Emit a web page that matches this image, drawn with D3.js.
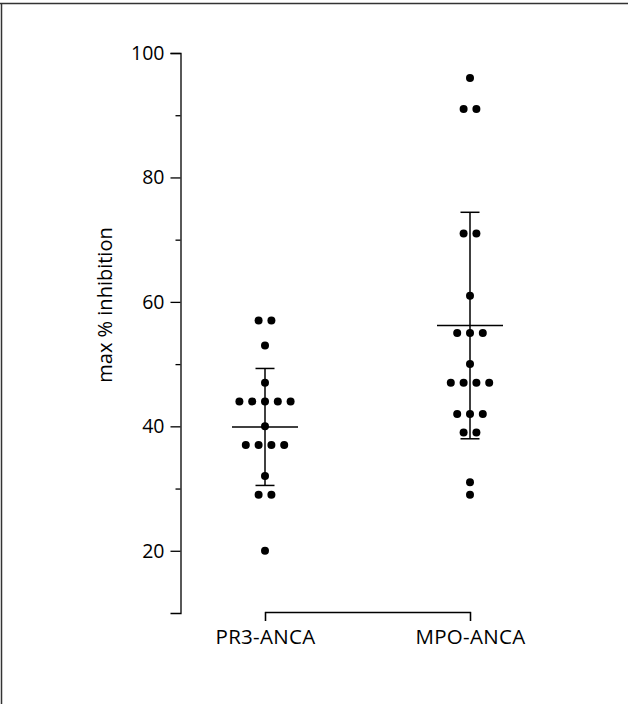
<!DOCTYPE html>
<html>
<head>
<meta charset="utf-8">
<script src="https://cdn.jsdelivr.net/npm/d3@7"></script>
<style>
  html, body { margin: 0; padding: 0; background: #fff; }
  svg { display: block; }
  text { font-family: "Open Sans", sans-serif; fill: #000; }
</style>
</head>
<body>
<svg id="chart" width="628" height="704"></svg>
<script>
// ---- data ----
const categories = ["PR3-ANCA", "MPO-ANCA"];
const pr3Values = [57, 57, 53, 47, 44, 44, 44, 44, 44, 40, 37, 37, 37, 37, 32, 29, 29, 20];
const mpoValues = [96, 91, 91, 71, 71, 61, 55, 55, 55, 50, 47, 47, 47, 47, 42, 42, 42, 39, 39, 31, 29];
const groupMeans = [39.9, 56.2];
const groupSD = [9.4, 18.2];
const yTicksMajor = [20, 40, 60, 80, 100];
const yTicksMinor = [30, 50, 70, 90];
const yLabel = "max % inhibition";

const seriesValues = [pr3Values, mpoValues];

const svg = d3.select("#chart");
const ink = "#000";

// frame (top and left edges of the figure box)
svg.append("line").attr("x1", 0).attr("x2", 628).attr("y1", 3.5).attr("y2", 3.5)
  .attr("stroke", "#333").attr("stroke-width", 1.5);
svg.append("line").attr("x1", 1.5).attr("x2", 1.5).attr("y1", 3).attr("y2", 704)
  .attr("stroke", "#333").attr("stroke-width", 1.5);

// scales
const y = d3.scaleLinear().domain([10, 100]).range([613, 53]);
const x = d3.scalePoint().domain(categories).range([265, 470]);

// y axis: major ticks with labels
const yAxis = svg.append("g").attr("transform", "translate(180.5,0)")
  .call(d3.axisLeft(y).tickValues(yTicksMajor).tickSizeInner(10).tickSizeOuter(10).tickPadding(6)
    .tickFormat(d3.format("d")));
yAxis.selectAll("path, line").attr("stroke", ink).attr("stroke-width", 1.3);
yAxis.selectAll("text").attr("font-size", 19.5).style("font-family", '"Open Sans", sans-serif').attr("fill", ink);

// y axis: minor ticks
const yMinor = svg.append("g").attr("transform", "translate(180.5,0)")
  .call(d3.axisLeft(y).tickValues(yTicksMinor).tickSizeInner(5).tickSizeOuter(0).tickFormat(""));
yMinor.select("path").remove();
yMinor.selectAll("line").attr("stroke", ink).attr("stroke-width", 1.3);

// x axis bracket
const xAxis = svg.append("g").attr("transform", "translate(0,612)")
  .call(d3.axisBottom(x).tickSizeInner(9).tickSizeOuter(9).tickPadding(8));
xAxis.selectAll("path, line").attr("stroke", ink).attr("stroke-width", 1.3);
xAxis.selectAll("text").attr("font-size", 20.5).style("font-family", '"Open Sans", sans-serif')
  .style("letter-spacing", "0.3px").attr("fill", ink);

// y label
svg.append("text")
  .attr("transform", "translate(112,305) rotate(-90)")
  .attr("text-anchor", "middle")
  .attr("font-size", 20)
  .text(yLabel);

// error bars (mean ± SD)
const meanHalf = 33, capHalf = 9.5;
categories.forEach((c, i) => {
  const cx = x(c);
  const m = groupMeans[i], s = groupSD[i];
  const g = svg.append("g").attr("stroke", ink).attr("stroke-width", 1.5);
  g.append("line").attr("x1", cx).attr("x2", cx).attr("y1", y(m + s)).attr("y2", y(m - s));
  g.append("line").attr("x1", cx - capHalf).attr("x2", cx + capHalf).attr("y1", y(m + s)).attr("y2", y(m + s));
  g.append("line").attr("x1", cx - capHalf).attr("x2", cx + capHalf).attr("y1", y(m - s)).attr("y2", y(m - s));
  g.append("line").attr("x1", cx - meanHalf).attr("x2", cx + meanHalf).attr("y1", y(m)).attr("y2", y(m));
});

// dots: same values spread side by side
const spacing = 12.8;
categories.forEach((c, i) => {
  const vals = seriesValues[i];
  const groups = d3.group(vals, v => v);
  const pts = [];
  groups.forEach((arr, v) => {
    arr.forEach((_, k) => pts.push({ v, off: (k - (arr.length - 1) / 2) * spacing }));
  });
  svg.append("g").selectAll("circle").data(pts).join("circle")
    .attr("cx", d => x(c) + d.off)
    .attr("cy", d => y(d.v))
    .attr("r", 4)
    .attr("fill", ink);
});
</script>
</body>
</html>
